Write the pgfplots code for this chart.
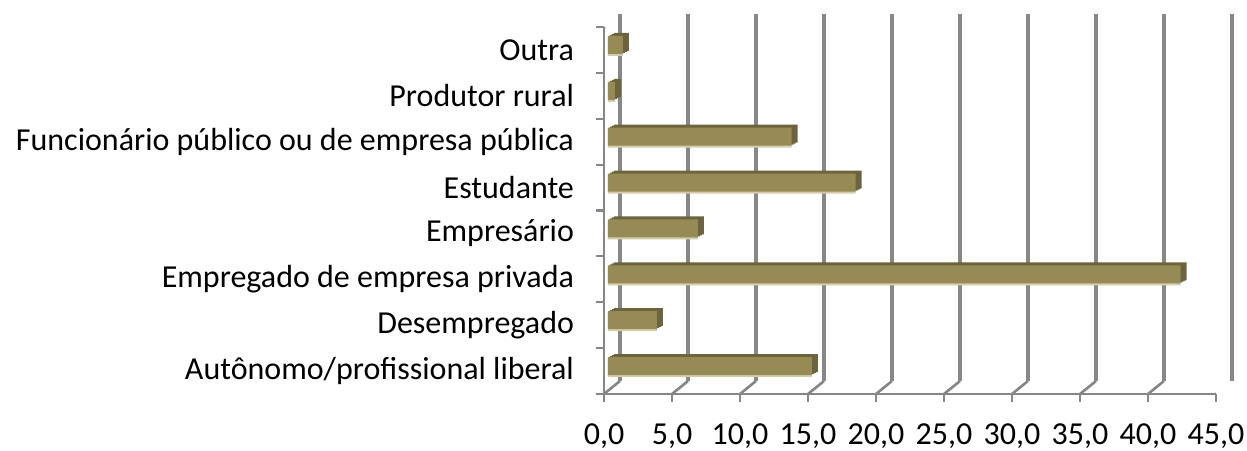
\documentclass[border=0pt]{standalone}
\usepackage{pgfplots}
\pgfplotsset{compat=1.18}
\usepackage{fontspec}
\setmainfont{Carlito}
\definecolor{barfront}{RGB}{150,139,85}
\definecolor{bartop}{RGB}{108,100,60}
\definecolor{barlight}{RGB}{210,205,172}
\definecolor{gridgray}{RGB}{135,135,135}
\begin{document}
\begin{tikzpicture}
\begin{axis}[
  at={(0,0)}, anchor=south west,
  scale only axis, width=306pt, height=183.5pt,
  xmin=0, xmax=45, ymin=-0.5, ymax=7.5,
  xbar, bar width=9pt,
  axis lines*=left,
  axis line style={gridgray, line width=1.1pt, -},
  xtick={0,5,...,45},
  xmajorgrids,
  every major grid/.style={gridgray, line width=1.8pt, xshift=8pt, yshift=6.5pt},
  tick align=outside, major tick length=4pt,
  xtick style={gridgray, line width=1.1pt},
  ytick={0,...,7},
  yticklabels={Autônomo/profissional liberal, Desempregado, Empregado de empresa privada, Empresário, Estudante, Funcionário público ou de empresa pública, Produtor rural, Outra},
  ytick style={draw=none},
  extra y ticks={-0.5,0.5,...,7.5},
  extra y tick labels={},
  extra y tick style={grid=none, ytick style={draw=gridgray, line width=1.1pt}},
  tick label style={font=\fontsize{16pt}{19pt}\selectfont, text=black},
  yticklabel style={xshift=-7.5pt},
  /pgf/number format/assume math mode=true,
  xticklabel style={yshift=-7.5pt, /pgf/number format/.cd, fixed, fixed zerofill, precision=1, use comma},
]
\addplot[draw=none, fill=barlight, bar shift=0pt, xshift=2pt, yshift=1.5pt] coordinates {(15.0,0) (3.6,1) (42.1,2) (6.6,3) (18.2,4) (13.5,5) (0.5,6) (1.1,7)};
\addplot[draw=none, fill=bartop, bar shift=0pt, xshift=5pt, yshift=4pt] coordinates {(15.0,0) (3.6,1) (42.1,2) (6.6,3) (18.2,4) (13.5,5) (0.5,6) (1.1,7)};
\addplot[draw=none, fill=bartop, bar shift=0pt, xshift=4pt, yshift=3.5pt] coordinates {(15.0,0) (3.6,1) (42.1,2) (6.6,3) (18.2,4) (13.5,5) (0.5,6) (1.1,7)};
\addplot[draw=none, fill=bartop, bar shift=0pt, xshift=3pt, yshift=3pt] coordinates {(15.0,0) (3.6,1) (42.1,2) (6.6,3) (18.2,4) (13.5,5) (0.5,6) (1.1,7)};
\addplot[draw=none, fill=barfront, bar shift=0pt, xshift=2pt, yshift=2.5pt] coordinates {(15.0,0) (3.6,1) (42.1,2) (6.6,3) (18.2,4) (13.5,5) (0.5,6) (1.1,7)};
\pgfplotsinvokeforeach{0,5,...,45}{\draw[gridgray, line width=1.3pt] (axis cs:#1,-0.5) -- ++(8pt,6.5pt);}
\draw[gridgray, line width=1.3pt] (axis cs:0,7.5) -- ++(8pt,6.5pt);
\end{axis}
\pgfresetboundingbox
\path[use as bounding box] (-302pt,-28pt) rectangle (321.5pt,197pt);
\end{tikzpicture}
\end{document}
